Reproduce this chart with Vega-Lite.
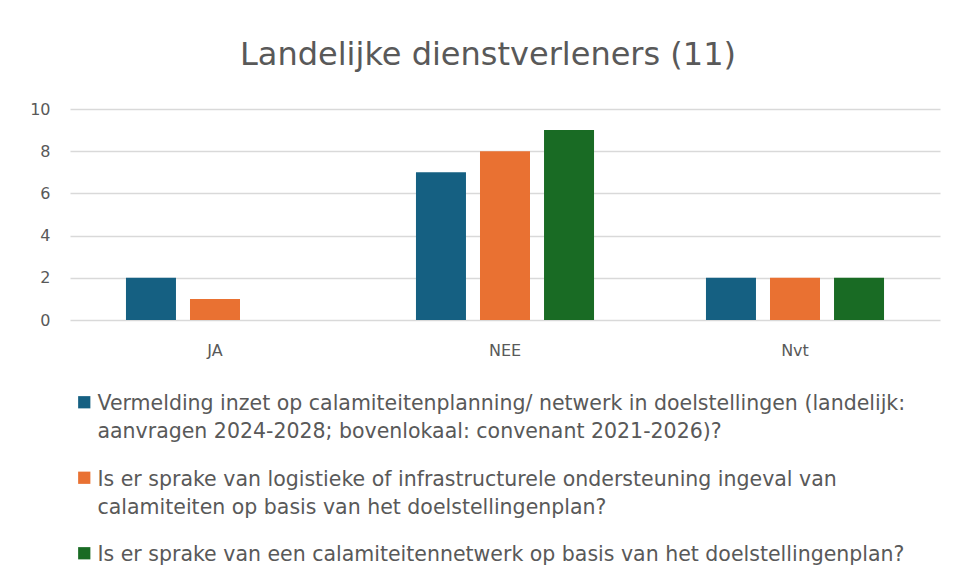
{
  "$schema": "https://vega.github.io/schema/vega-lite/v6.json",
  "autosize": "none",
  "width": 870,
  "height": 211,
  "padding": {"left": 70, "top": 109, "right": 15, "bottom": 258},
  "background": "white",
  "title": {
    "text": "Landelijke dienstverleners (11)",
    "font": "DejaVu Sans",
    "fontSize": 32,
    "fontWeight": "normal",
    "color": "#595959",
    "anchor": "middle",
    "dx": -17,
    "offset": 29
  },
  "data": {
    "values": [
      {"cat": "JA", "q": "Vermelding", "v": 2},
      {"cat": "JA", "q": "Logistiek", "v": 1},
      {"cat": "JA", "q": "Netwerk", "v": 0},
      {"cat": "NEE", "q": "Vermelding", "v": 7},
      {"cat": "NEE", "q": "Logistiek", "v": 8},
      {"cat": "NEE", "q": "Netwerk", "v": 9},
      {"cat": "Nvt", "q": "Vermelding", "v": 2},
      {"cat": "Nvt", "q": "Logistiek", "v": 2},
      {"cat": "Nvt", "q": "Netwerk", "v": 2}
    ]
  },
  "mark": {"type": "bar"},
  "encoding": {
    "x": {
      "field": "cat",
      "type": "nominal",
      "sort": ["JA", "NEE", "Nvt"],
      "scale": {"paddingInner": 0.386, "paddingOuter": 0.193},
      "axis": {
        "title": null,
        "labelAngle": 0,
        "ticks": false,
        "domain": false,
        "labelPadding": 22,
        "labelFont": "DejaVu Sans",
        "labelFontSize": 16,
        "labelColor": "#595959"
      }
    },
    "xOffset": {
      "field": "q",
      "type": "nominal",
      "sort": ["Vermelding", "Logistiek", "Netwerk"],
      "scale": {"paddingInner": 0.219, "paddingOuter": 0}
    },
    "y": {
      "field": "v",
      "type": "quantitative",
      "scale": {"domain": [0, 10], "nice": false},
      "axis": {
        "title": null,
        "values": [0, 2, 4, 6, 8, 10],
        "ticks": false,
        "domain": false,
        "labelPadding": 20,
        "labelFont": "DejaVu Sans",
        "labelFontSize": 16,
        "labelColor": "#595959",
        "gridColor": "#d9d9d9",
        "gridWidth": 1.5
      }
    },
    "color": {
      "field": "q",
      "type": "nominal",
      "sort": ["Vermelding", "Logistiek", "Netwerk"],
      "scale": {
        "domain": ["Vermelding", "Logistiek", "Netwerk"],
        "range": ["#156082", "#e97132", "#196b24"]
      },
      "legend": {
        "title": null,
        "orient": "none",
        "legendX": 4,
        "legendY": 283,
        "direction": "vertical",
        "symbolType": "square",
        "symbolSize": 150,
        "symbolStrokeWidth": 0,
        "labelFont": "DejaVu Sans",
        "labelFontSize": 20.5,
        "labelColor": "#595959",
        "labelLimit": 0,
        "labelOffset": 3,
        "labelBaseline": "top",
        "rowPadding": 24.5,
        "encoding": {
          "labels": {"lineHeight": {"value": 28}, "dy": {"value": -8}}
        },
        "labelExpr": "datum.label == 'Vermelding' ? ['Vermelding inzet op calamiteitenplanning/ netwerk in doelstellingen (landelijk:', 'aanvragen 2024-2028; bovenlokaal: convenant 2021-2026)?'] : datum.label == 'Logistiek' ? ['Is er sprake van logistieke of infrastructurele ondersteuning ingeval van', 'calamiteiten op basis van het doelstellingenplan?'] : 'Is er sprake van een calamiteitennetwerk op basis van het doelstellingenplan?'"
      }
    }
  },
  "config": {
    "view": {"stroke": null}
  }
}
